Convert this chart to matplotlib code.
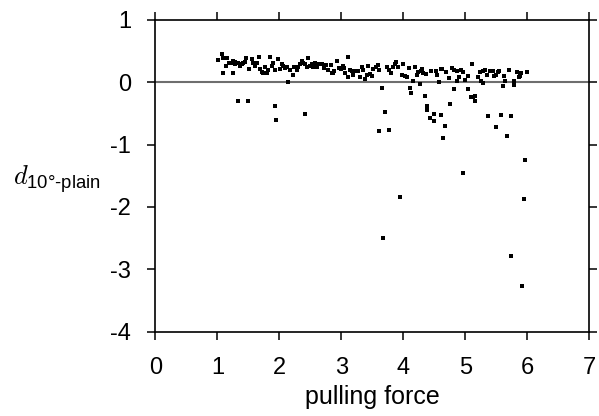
import matplotlib
matplotlib.use("Agg")
import matplotlib.pyplot as plt

# main band points (pulling force, d)
band_x = [1.017, 1.071, 1.097, 1.151, 1.140, 1.194, 1.216, 1.248, 1.286, 1.286, 1.339, 1.366, 1.393, 1.420,
          1.463, 1.447, 1.517, 1.555, 1.581, 1.608, 1.646, 1.678, 1.689, 1.716, 1.743, 1.770, 1.797, 1.823,
          1.850, 1.877, 1.893, 1.931, 1.985, 2.012, 2.039, 2.066, 2.092, 2.130, 2.173, 2.216, 2.238, 2.281,
          2.308, 2.334, 2.361, 2.388, 2.415, 2.442, 2.469, 2.496, 2.523, 2.549, 2.576, 2.603, 2.646,
          1.092, 1.248, 2.135,
          2.684, 2.754, 2.727, 2.791, 2.829, 2.845, 2.872, 2.888, 2.926, 2.964, 2.990, 3.033, 3.044, 3.060,
          3.103, 3.114, 3.141, 3.168, 3.184, 3.211, 3.249, 3.275, 3.302, 3.329, 3.345, 3.388, 3.410, 3.437,
          3.464, 3.491, 3.517, 3.560, 3.598, 3.609, 3.733, 3.770, 3.797, 3.829, 3.862, 3.883, 3.910, 3.975,
          4.002, 4.028, 4.066, 4.098, 4.190, 4.217, 4.244, 4.281, 4.297, 4.324, 4.367, 4.448, 4.529, 4.550,
          4.600, 4.630, 4.690, 4.780, 4.820, 4.860, 4.930, 4.960, 5.100, 4.730, 4.860, 4.900, 5.000, 5.050,
          5.240, 5.280, 5.320, 5.200, 5.250, 5.350, 5.400, 5.440, 5.460, 5.490, 5.530, 5.550, 5.630, 5.700,
          5.640, 5.780, 5.840, 5.900, 5.870, 5.890, 5.990]
band_y = [0.354, 0.451, 0.381, 0.381, 0.258, 0.312, 0.301, 0.344, 0.328, 0.290, 0.301, 0.258, 0.290, 0.312,
          0.381, 0.328, 0.205, 0.365, 0.312, 0.258, 0.312, 0.408, 0.205, 0.168, 0.141, 0.248, 0.141, 0.194,
          0.408, 0.258, 0.312, 0.194, 0.365, 0.205, 0.290, 0.258, 0.221, 0.248, 0.194, 0.114, 0.237, 0.194,
          0.248, 0.290, 0.344, 0.301, 0.290, 0.248, 0.381, 0.258, 0.290, 0.237, 0.301, 0.248, 0.290,
          0.141, 0.141, -0.003,
          0.285, 0.269, 0.226, 0.194, 0.269, 0.141, 0.141, 0.184, 0.338, 0.226, 0.210, 0.264, 0.221, 0.141,
          0.408, 0.082, 0.200, 0.173, 0.109, 0.184, 0.184, 0.184, 0.087, 0.248, 0.194, 0.050, 0.119, 0.258,
          0.125, 0.093, 0.205, 0.248, 0.269, 0.194, 0.237, 0.194, 0.151, 0.248, 0.285, 0.322, 0.248, 0.119,
          0.290, 0.103, 0.087, 0.232, 0.248, 0.119, 0.157, 0.178, 0.205, 0.141, 0.130, 0.184, 0.184, 0.119,
          0.210, 0.210, 0.170, 0.220, 0.200, 0.180, 0.190, 0.160, 0.290, 0.060, 0.020, 0.080, 0.040, 0.100,
          0.170, 0.180, 0.190, 0.090, 0.020, 0.120, 0.180, 0.180, 0.100, 0.110, 0.160, 0.180, 0.100, 0.200,
          0.020, 0.020, 0.170, 0.140, 0.080, 0.100, 0.160]

# points below the band
low_x = [1.33, 1.50, 1.93, 1.95, 2.42,
         3.65, 4.11, 4.12, 4.27, 4.15, 4.35, 4.39, 4.58,
         4.81, 5.04, 4.75, 5.09, 5.13, 5.16, 5.15, 5.60, 5.79, 5.29,
         3.70, 3.61, 3.77, 4.38, 4.50, 4.43, 4.49, 4.61, 4.67, 4.64, 5.36, 5.57, 5.73, 5.49, 5.68,
         5.97, 4.96, 3.95, 5.95, 3.68, 5.74, 5.92]
low_y = [-0.31, -0.31, -0.38, -0.60, -0.51,
         -0.10, -0.10, -0.17, -0.03, 0.01, -0.22, -0.38, 0.00,
         -0.11, -0.11, -0.35, -0.24, -0.24, -0.22, -0.31, -0.07, -0.05, -0.02,
         -0.48, -0.79, -0.77, -0.45, -0.51, -0.57, -0.62, -0.53, -0.70, -0.89, -0.54, -0.53, -0.55, -0.72, -0.87,
         -1.25, -1.46, -1.84, -1.88, -2.50, -2.78, -3.27]

x_ticks = [0, 1, 2, 3, 4, 5, 6, 7]
y_ticks = [-4, -3, -2, -1, 0, 1]

plt.rcParams['font.family'] = ['Liberation Sans', 'DejaVu Sans']
plt.rcParams['mathtext.fontset'] = 'custom'
plt.rcParams['mathtext.it'] = 'cmmi10'
plt.rcParams['mathtext.rm'] = 'Liberation Sans'
plt.rcParams['mathtext.sf'] = 'Liberation Sans'

fig = plt.figure(figsize=(5.99, 4.16), dpi=100)
ax = fig.add_axes([0.2593, 0.2026, 0.7245, 0.7500])

ax.axhline(0, color='#6e6e6e', lw=1.5, zorder=1)
ax.plot(band_x + low_x, band_y + low_y, 's', color='black', ms=2.2, mew=0, zorder=3)

ax.set_xlim(0, 7)
ax.set_ylim(-4, 1)
ax.set_xticks(x_ticks)
ax.set_yticks(y_ticks)
ax.set_xticklabels([str(v) for v in x_ticks])
ax.set_yticklabels([str(v) for v in y_ticks])
ax.tick_params(direction='out', length=5.5, width=1.1, labelsize=17,
               top=True, right=True, bottom=True, left=True)
ax.tick_params(axis='x', pad=13)
ax.tick_params(axis='y', pad=12)
for s in ax.spines.values():
    s.set_linewidth(1.2)

ax.set_xlabel('pulling force', fontsize=18, labelpad=4)
ax.set_ylabel(r'$d_{\mathrm{10°\text{-}plain}}$', fontsize=19, rotation=0,
              ha='center', va='center')
ax.yaxis.set_label_coords(-0.228, 0.49)

fig.savefig('out.png', dpi=100)
